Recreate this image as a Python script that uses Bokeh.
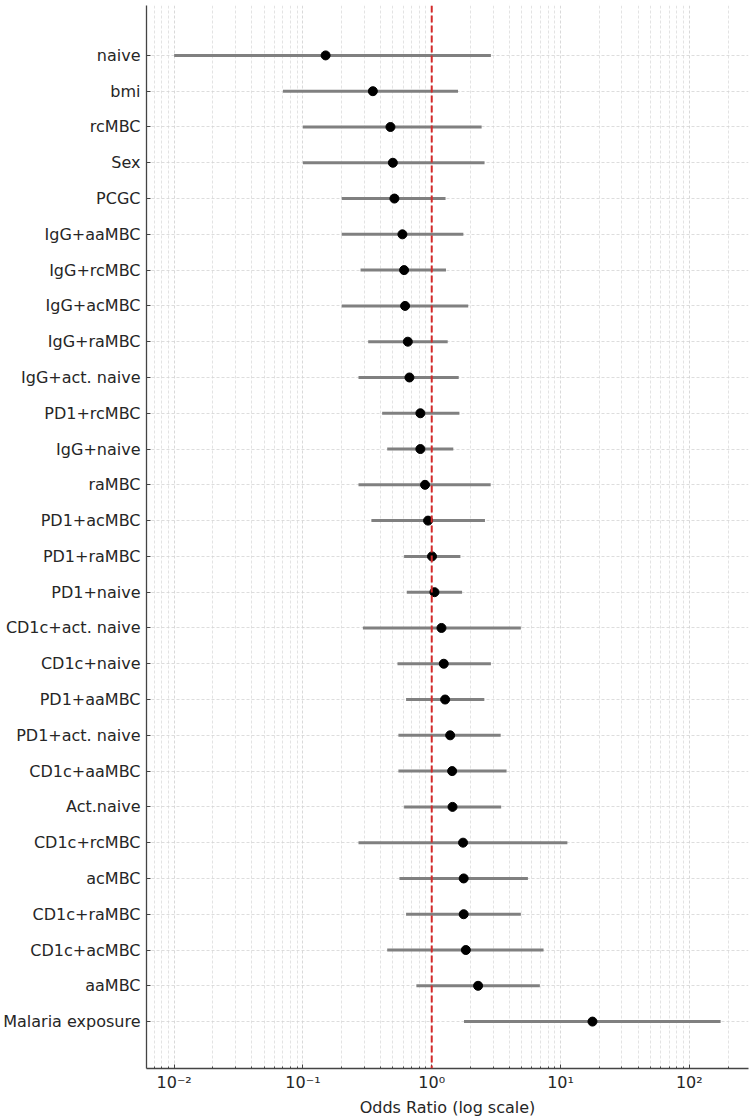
from bokeh.plotting import figure
from bokeh.models import Span, FixedTicker, CustomJSTickFormatter, Range1d, ColumnDataSource
from bokeh.embed import file_html
from bokeh.resources import INLINE

labels = ["naive", "bmi", "rcMBC", "Sex", "PCGC", "IgG+aaMBC", "IgG+rcMBC", "IgG+acMBC",
          "IgG+raMBC", "IgG+act. naive", "PD1+rcMBC", "IgG+naive", "raMBC", "PD1+acMBC",
          "PD1+raMBC", "PD1+naive", "CD1c+act. naive", "CD1c+naive", "PD1+aaMBC",
          "PD1+act. naive", "CD1c+aaMBC", "Act.naive", "CD1c+rcMBC", "acMBC", "CD1c+raMBC",
          "CD1c+acMBC", "aaMBC", "Malaria exposure"]
odds = [0.150, 0.349, 0.478, 0.499, 0.513, 0.592, 0.610, 0.621, 0.652, 0.671, 0.816, 0.816,
        0.887, 0.936, 1.005, 1.05, 1.19, 1.24, 1.27, 1.39, 1.44, 1.45, 1.75, 1.77, 1.77,
        1.84, 2.29, 17.7]
lower = [0.010, 0.070, 0.100, 0.100, 0.200, 0.200, 0.280, 0.200, 0.321, 0.270, 0.412, 0.451,
         0.270, 0.340, 0.610, 0.640, 0.292, 0.542, 0.632, 0.551, 0.551, 0.610, 0.270, 0.561,
         0.632, 0.451, 0.760, 1.78]
upper = [2.88, 1.60, 2.44, 2.57, 1.28, 1.76, 1.29, 1.92, 1.33, 1.62, 1.64, 1.47, 2.87, 2.59,
         1.67, 1.72, 4.92, 2.88, 2.56, 3.43, 3.81, 3.46, 11.3, 5.58, 4.92, 7.38, 6.91, 175]
major_ticks = [0.01, 0.1, 1, 10, 100]
x_label = "Odds Ratio (log scale)"

n = len(labels)
ypos = [n - 1 - i for i in range(n)]
src = ColumnDataSource(dict(y=ypos, odds=odds, lo=lower, hi=upper))

FONT = "DejaVu Sans"

p = figure(width=750, height=1119, x_axis_type="log", output_backend="svg",
           toolbar_location=None, x_range=Range1d(0.0061, 288),
           y_range=Range1d(-1.311, n - 1 + 1.395))
p.min_border_left = 145
p.min_border_right = 2
p.min_border_top = 5
p.min_border_bottom = 49
p.outline_line_color = None
p.background_fill_color = "white"
p.border_fill_color = "white"

# grids
minor = []
for d in range(-3, 3):
    for k in range(2, 10):
        minor.append(k * 10.0 ** d)
p.xaxis.ticker = FixedTicker(ticks=major_ticks, minor_ticks=minor)
p.xgrid.ticker = p.xaxis.ticker
p.xgrid.grid_line_color = "#cfcfcf"
p.xgrid.grid_line_dash = "3 2"
p.xgrid.grid_line_width = 0.8
p.xgrid.minor_grid_line_color = "#dcdcdc"
p.xgrid.minor_grid_line_dash = "3 2"
p.xgrid.minor_grid_line_width = 0.8

p.yaxis.ticker = FixedTicker(ticks=ypos)
p.ygrid.grid_line_color = "#d4d4d4"
p.ygrid.grid_line_dash = "3 2"
p.ygrid.grid_line_width = 0.8
p.yaxis.major_label_overrides = {n - 1 - i: lab for i, lab in enumerate(labels)}

p.xaxis.formatter = CustomJSTickFormatter(code="""
const sup = {"-":"\u207b","0":"\u2070","1":"\u00b9","2":"\u00b2","3":"\u00b3","4":"\u2074",
             "5":"\u2075","6":"\u2076","7":"\u2077","8":"\u2078","9":"\u2079"};
const e = Math.round(Math.log10(tick));
return "10" + String(e).split("").map(c => sup[c]).join("");
""")

for ax in (p.xaxis[0], p.yaxis[0]):
    ax.axis_line_color = "#444444"
    ax.axis_line_width = 1.3
    ax.major_tick_line_color = "#444444"
    ax.minor_tick_line_color = "#444444"
    ax.major_tick_in = 4
    ax.major_tick_out = 0
    ax.minor_tick_in = 2
    ax.minor_tick_out = 0
    ax.major_label_text_font = FONT
    ax.major_label_text_color = "#262626"
    ax.major_label_text_font_size = "16px"
    ax.major_label_standoff = 6
p.yaxis.minor_tick_line_color = None
p.xaxis.major_label_standoff = 4

p.xaxis.axis_label = x_label
p.xaxis.axis_label_text_font = FONT
p.xaxis.axis_label_text_font_style = "normal"
p.xaxis.axis_label_text_font_size = "16px"
p.xaxis.axis_label_text_color = "#262626"
p.xaxis.axis_label_standoff = 3

p.segment(x0="lo", y0="y", x1="hi", y1="y", source=src, line_color="#808080", line_width=3)
p.scatter(x="odds", y="y", source=src, size=9, fill_color="black", line_color="black")

p.add_layout(Span(location=1, dimension="height", line_color="#d42a2a",
                  line_dash="7 3", line_width=2))

open("out.html", "w").write(file_html(p, INLINE))
